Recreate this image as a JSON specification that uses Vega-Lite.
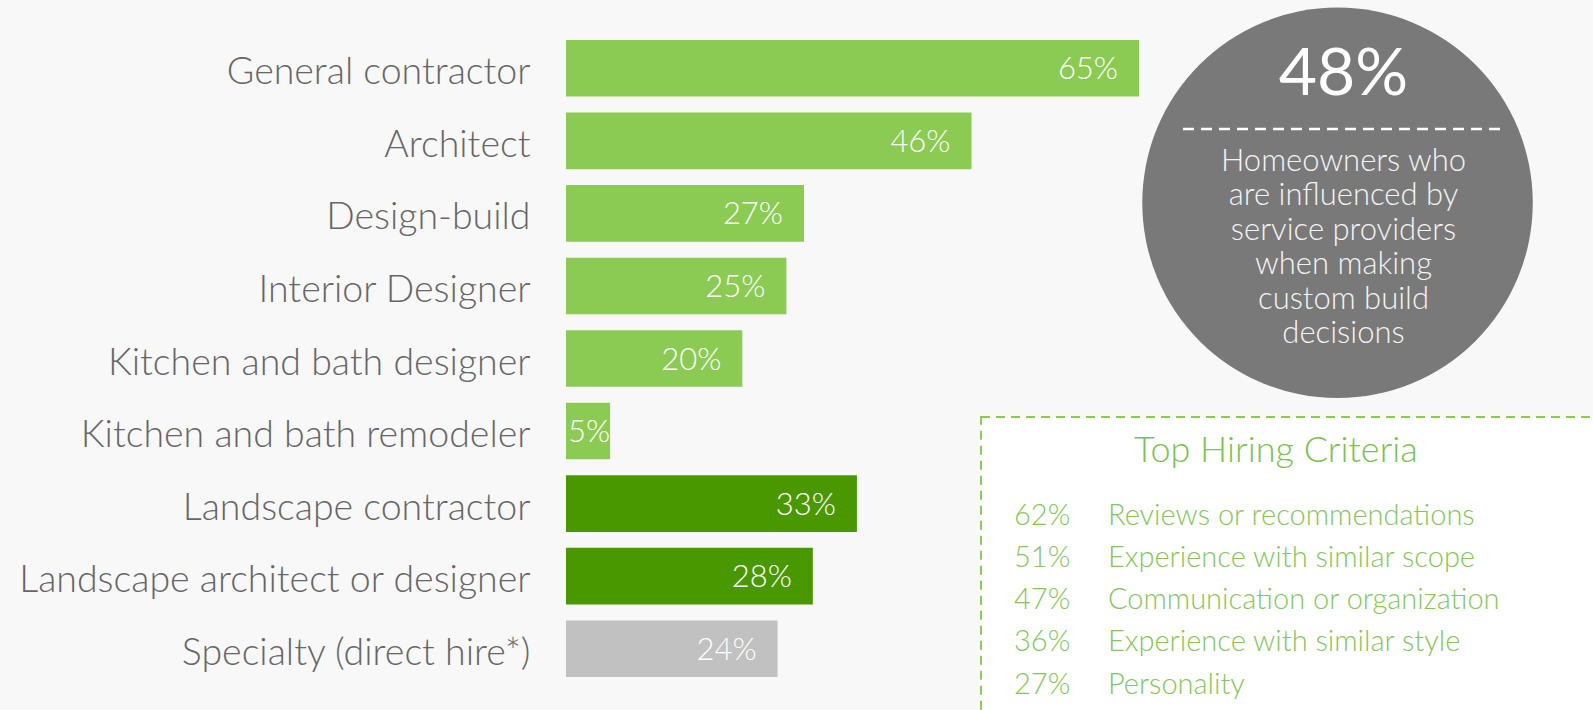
{
  "$schema": "https://vega.github.io/schema/vega-lite/v6.json",
  "width": 1027,
  "height": 637,
  "autosize": {"type": "none"},
  "padding": {"left": 566, "top": 40, "right": 0, "bottom": 33},
  "background": "#F8F8F8",
  "config": {"view": {"stroke": null}, "font": "Lato"},
  "datasets": {
    "bars": [
      {"category": "General contractor", "value": 65, "group": "Home"},
      {"category": "Architect", "value": 46, "group": "Home"},
      {"category": "Design-build", "value": 27, "group": "Home"},
      {"category": "Interior Designer", "value": 25, "group": "Home"},
      {"category": "Kitchen and bath designer", "value": 20, "group": "Home"},
      {"category": "Kitchen and bath remodeler", "value": 5, "group": "Home"},
      {"category": "Landscape contractor", "value": 33, "group": "Landscape"},
      {"category": "Landscape architect or designer", "value": 28, "group": "Landscape"},
      {"category": "Specialty (direct hire*)", "value": 24, "group": "Specialty"}
    ],
    "circle": [{"x": 87.52, "y": 25.56}],
    "headline": [{"x": 88.2, "y": 8.63, "text": "48%"}],
    "divider": [{"x": 69.99, "x2": 106.63, "y": 13.97}],
    "circletext": [{"x": 88.2, "y": 20.52, "text": ["Homeowners who", "are influenced by", "service providers", "when making", "custom build", "decisions"]}],
    "box": [{"x": 47.08, "x2": 118, "y": 59.18, "y2": 110}],
    "title": [{"x": 80.53, "y": 66.2, "text": "Top Hiring Criteria"}],
    "criteria": [
      {"pct": "62%", "label": "Reviews or recommendations", "y": 76.14},
      {"pct": "51%", "label": "Experience with similar scope", "y": 82.73},
      {"pct": "47%", "label": "Communication or organization", "y": 89.4},
      {"pct": "36%", "label": "Experience with similar style", "y": 95.92},
      {"pct": "27%", "label": "Personality", "y": 102.67}
    ]
  },
  "layer": [
    {
      "data": {"name": "bars"},
      "encoding": {
        "y": {
          "field": "category", "type": "nominal", "sort": null,
          "scale": {"paddingInner": 0.22, "paddingOuter": 0},
          "axis": {
            "title": null, "ticks": false, "domain": false, "grid": false,
            "labelFontSize": 37.5, "labelColor": "#666666", "labelPadding": 36,
            "labelOffset": 5,
            "labelFont": "Lato", "labelFontWeight": 300, "labelLimit": 700
          }
        }
      },
      "layer": [
        {
          "mark": {"type": "bar"},
          "encoding": {
            "x": {"field": "value", "type": "quantitative", "scale": {"domain": [0, 116.5], "nice": false}, "axis": null},
            "color": {"field": "group", "type": "nominal", "scale": {"domain": ["Home", "Landscape", "Specialty"], "range": ["#8BCB54", "#4A9800", "#C1C1C1"]}, "legend": null}
          }
        },
        {
          "transform": [
            {"calculate": "max(datum.value, 7.4)", "as": "labelAt"},
            {"calculate": "datum.value + '%'", "as": "labelText"}
          ],
          "mark": {"type": "text", "align": "right", "baseline": "middle", "dx": -21, "dy": 2, "fontSize": 31, "fontWeight": 300, "color": "#FFFFFF"},
          "encoding": {
            "x": {"field": "labelAt", "type": "quantitative", "scale": {"domain": [0, 116.5], "nice": false}, "axis": null},
            "text": {"field": "labelText"}
          }
        }
      ]
    },
    {
      "layer": [
        {
          "data": {"name": "circle"},
          "mark": {"type": "point", "shape": "circle", "filled": true, "size": 152490, "color": "#797979", "opacity": 1},
          "encoding": {
            "x": {"field": "x", "type": "quantitative", "scale": {"domain": [0, 116.5], "nice": false}, "axis": null},
            "y": {"field": "y", "type": "quantitative", "scale": {"domain": [0, 100], "reverse": true, "nice": false, "zero": false}, "axis": null}
          }
        },
        {
          "data": {"name": "headline"},
          "mark": {"type": "text", "align": "center", "baseline": "alphabetic", "fontSize": 66, "fontWeight": 400, "color": "#FFFFFF"},
          "encoding": {
            "x": {"field": "x", "type": "quantitative", "scale": {"domain": [0, 116.5], "nice": false}, "axis": null},
            "y": {"field": "y", "type": "quantitative", "scale": {"domain": [0, 100], "reverse": true, "nice": false, "zero": false}, "axis": null},
            "text": {"field": "text"}
          }
        },
        {
          "data": {"name": "divider"},
          "mark": {"type": "rule", "color": "#FFFFFF", "strokeWidth": 2.5, "strokeDash": [11, 7]},
          "encoding": {
            "x": {"field": "x", "type": "quantitative", "scale": {"domain": [0, 116.5], "nice": false}, "axis": null},
            "x2": {"field": "x2"},
            "y": {"field": "y", "type": "quantitative", "scale": {"domain": [0, 100], "reverse": true, "nice": false, "zero": false}, "axis": null}
          }
        },
        {
          "data": {"name": "circletext"},
          "mark": {"type": "text", "align": "center", "baseline": "alphabetic", "fontSize": 31, "fontWeight": 300, "lineHeight": 34.5, "color": "#F4F4F4"},
          "encoding": {
            "x": {"field": "x", "type": "quantitative", "scale": {"domain": [0, 116.5], "nice": false}, "axis": null},
            "y": {"field": "y", "type": "quantitative", "scale": {"domain": [0, 100], "reverse": true, "nice": false, "zero": false}, "axis": null},
            "text": {"field": "text"}
          }
        },
        {
          "data": {"name": "box"},
          "mark": {"type": "rect", "fill": "#FFFFFF", "stroke": "#8BCB54", "strokeWidth": 2, "strokeDash": [9, 6]},
          "encoding": {
            "x": {"field": "x", "type": "quantitative", "scale": {"domain": [0, 116.5], "nice": false}, "axis": null},
            "x2": {"field": "x2"},
            "y": {"field": "y", "type": "quantitative", "scale": {"domain": [0, 100], "reverse": true, "nice": false, "zero": false}, "axis": null},
            "y2": {"field": "y2"}
          }
        },
        {
          "data": {"name": "title"},
          "mark": {"type": "text", "align": "center", "baseline": "alphabetic", "fontSize": 36, "fontWeight": 300, "color": "#7BC24E"},
          "encoding": {
            "x": {"field": "x", "type": "quantitative", "scale": {"domain": [0, 116.5], "nice": false}, "axis": null},
            "y": {"field": "y", "type": "quantitative", "scale": {"domain": [0, 100], "reverse": true, "nice": false, "zero": false}, "axis": null},
            "text": {"field": "text"}
          }
        },
        {
          "data": {"name": "criteria"},
          "mark": {"type": "text", "align": "left", "baseline": "alphabetic", "fontSize": 29, "fontWeight": 300, "color": "#84C75A"},
          "encoding": {
            "x": {"datum": 50.82, "type": "quantitative", "scale": {"domain": [0, 116.5], "nice": false}, "axis": null},
            "y": {"field": "y", "type": "quantitative", "scale": {"domain": [0, 100], "reverse": true, "nice": false, "zero": false}, "axis": null},
            "text": {"field": "pct"}
          }
        },
        {
          "data": {"name": "criteria"},
          "mark": {"type": "text", "align": "left", "baseline": "alphabetic", "fontSize": 29, "fontWeight": 300, "color": "#84C75A"},
          "encoding": {
            "x": {"datum": 61.48, "type": "quantitative", "scale": {"domain": [0, 116.5], "nice": false}, "axis": null},
            "y": {"field": "y", "type": "quantitative", "scale": {"domain": [0, 100], "reverse": true, "nice": false, "zero": false}, "axis": null},
            "text": {"field": "label"}
          }
        }
      ]
    }
  ],
  "resolve": {"scale": {"y": "independent"}}
}
